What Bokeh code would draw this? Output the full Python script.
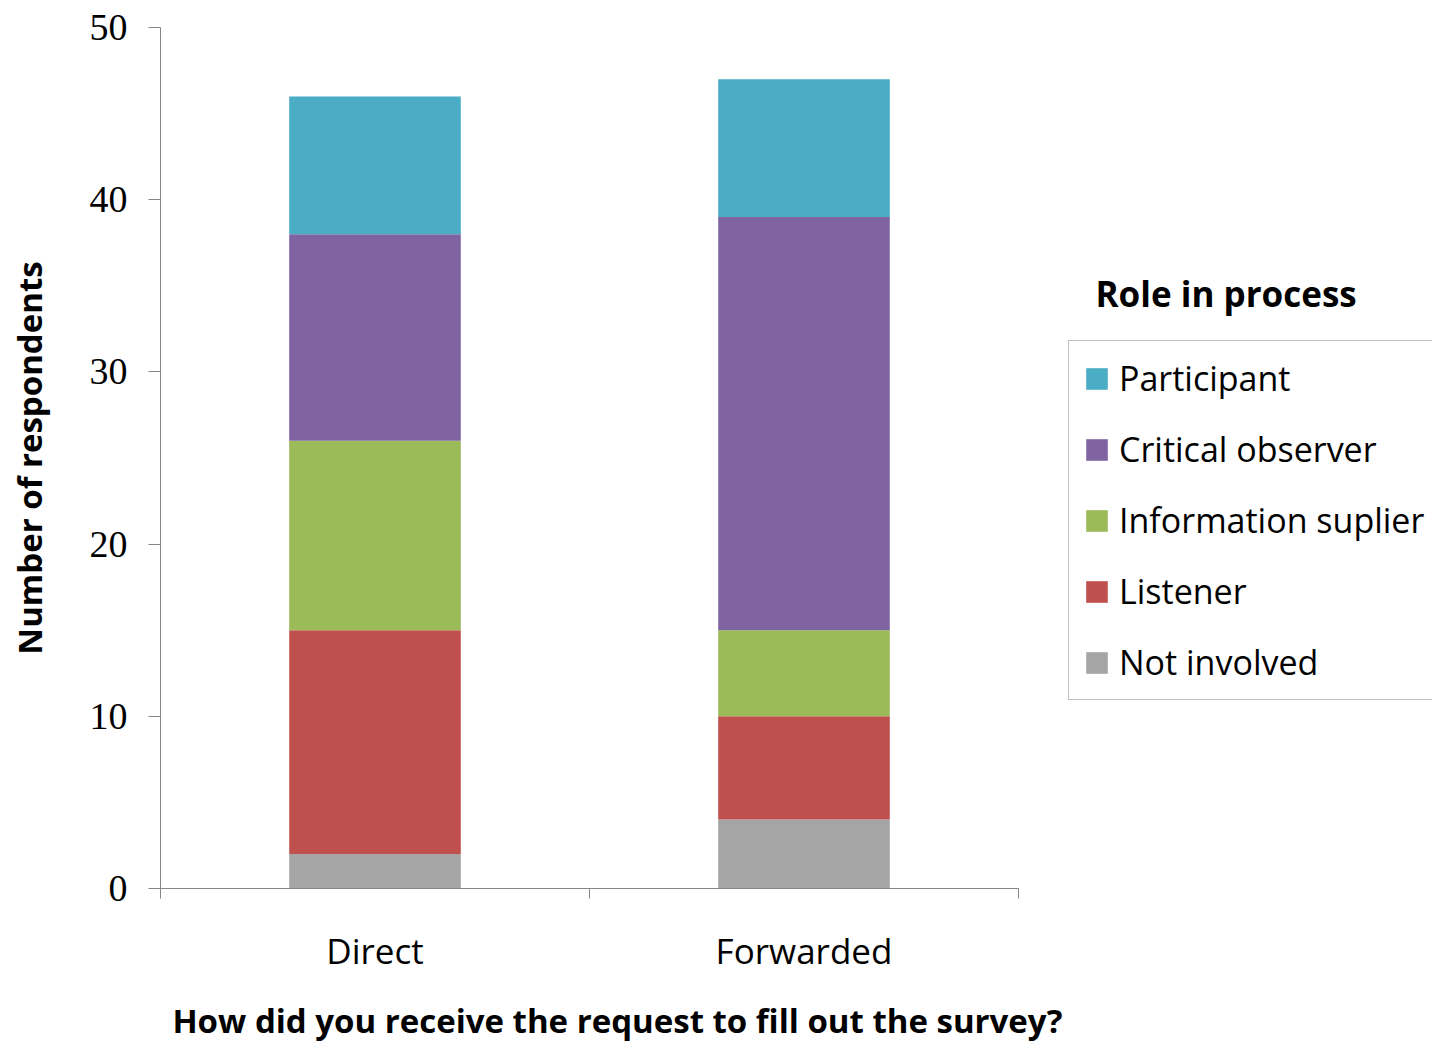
from bokeh.plotting import figure
from bokeh.models import (ColumnDataSource, Range1d, LinearAxis, FixedTicker,
                          Legend, LegendItem, Label)
from bokeh.embed import file_html
from bokeh.resources import INLINE

# Survey answers: how the request arrived, split by role in the process
channels = ["Direct", "Forwarded"]
roles = ["Not involved", "Listener", "Information suplier", "Critical observer", "Participant"]
not_involved = [2, 4]
listener = [13, 6]
information_suplier = [11, 5]
critical_observer = [12, 24]
participant = [8, 8]
role_colors = ["#A5A5A5", "#C0504D", "#9BBB59", "#8064A2", "#4BACC6"]
y_ticks = [0, 10, 20, 30, 40, 50]
x_title = "How did you receive the request to fill out the survey?"
legend_title = "Role in process"

# each category occupies one unit on the x axis; bars sit at the unit centres
n = len(channels)
centres = [i + 0.5 for i in range(n)]
edges = list(range(n + 1))
source = ColumnDataSource(dict(
    pos=centres, channel=channels,
    **dict(zip(roles, [not_involved, listener, information_suplier,
                       critical_observer, participant]))
))

AXIS_GREY = "#868686"
SANS = "Open Sans"

# the plotting frame runs to the right edge so the legend can sit beside the bars;
# the x axis itself is bounded to the category span
UNIT_PX = 429
FRAME_W = 1432 - 160
TITLE_X = 1.065  # horizontal centre of the x-axis title, in category units

p = figure(width=1432, height=1045,
           x_range=Range1d(0, FRAME_W / UNIT_PX), y_range=Range1d(0, 50),
           x_axis_type=None,
           output_backend="svg", toolbar_location=None,
           min_border_left=160, min_border_right=0,
           min_border_top=27, min_border_bottom=157,
           outline_line_color=None, background_fill_color="white")
p.xgrid.visible = False
p.ygrid.visible = False

renderers = p.vbar_stack(roles, x="pos", width=0.4, color=role_colors,
                         line_color=None, source=source)

# y axis
yax = p.yaxis[0]
yax.ticker = FixedTicker(ticks=y_ticks, minor_ticks=[])
yax.major_tick_out = 12
yax.major_tick_in = 0
yax.axis_line_color = AXIS_GREY
yax.major_tick_line_color = AXIS_GREY
yax.major_label_text_font = "Liberation Serif"
yax.major_label_text_font_size = "38px"
yax.major_label_text_color = "black"
yax.major_label_standoff = 21
yax.axis_label = "Number of respondents"
yax.axis_label_text_font = SANS
yax.axis_label_text_font_size = "33px"
yax.axis_label_text_font_style = "bold"
yax.axis_label_text_color = "black"
yax.axis_label_standoff = 35

# x axis: category names at the centres, tick marks on the category boundaries
cat_axis = LinearAxis(ticker=FixedTicker(ticks=centres, minor_ticks=edges),
                      bounds=(0, n),
                      major_label_overrides=dict(zip(centres, channels)),
                      major_tick_out=10, major_tick_in=0, major_tick_line_color=None,
                      minor_tick_out=10, minor_tick_in=0, minor_tick_line_color=AXIS_GREY,
                      axis_line_color=AXIS_GREY,
                      major_label_text_font=SANS, major_label_text_font_size="35px",
                      major_label_text_color="black", major_label_standoff=28)
p.add_layout(cat_axis, "below")

# x-axis title, set as a single label under the category names
title_axis = LinearAxis(ticker=FixedTicker(ticks=[TITLE_X], minor_ticks=[]),
                        major_label_overrides={TITLE_X: x_title},
                        major_tick_out=0, major_tick_in=0, major_tick_line_color=None,
                        axis_line_color=None,
                        major_label_text_font=SANS, major_label_text_font_size="33px",
                        major_label_text_font_style="bold", major_label_text_color="black",
                        major_label_standoff=21)
p.add_layout(title_axis, "below")

items = [LegendItem(label=role, renderers=[r])
         for role, r in reversed(list(zip(roles, renderers)))]
legend = Legend(items=items, location=(908, 188),
                label_text_font=SANS, label_text_font_size="34px",
                label_text_color="black",
                glyph_width=27, glyph_height=27,
                spacing=25, padding=14, label_standoff=9, label_width=400,
                border_line_color=AXIS_GREY, border_line_width=1,
                background_fill_color="white")
p.add_layout(legend)

p.add_layout(Label(x=935, y=595, x_units="screen", y_units="screen",
                   text=legend_title, text_font=SANS, text_font_size="35px",
                   text_font_style="bold", text_color="black",
                   text_baseline="alphabetic"))

open("out.html", "w").write(file_html(p, INLINE))
